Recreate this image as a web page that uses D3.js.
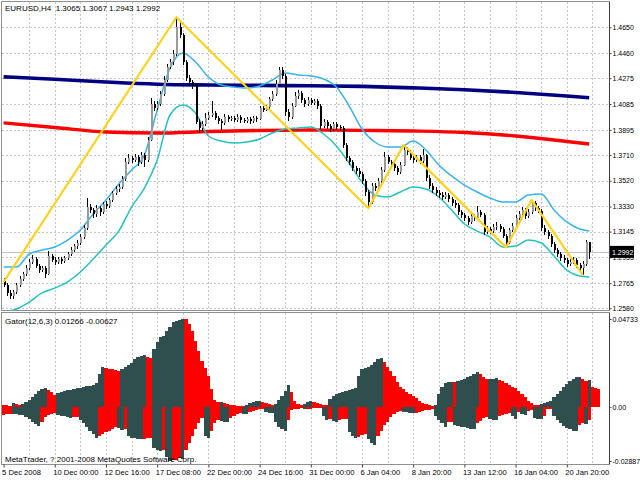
<!DOCTYPE html>
<html><head><meta charset="utf-8">
<script src="https://cdn.jsdelivr.net/npm/d3@7"></script>
<style>
html,body{margin:0;padding:0;background:#fff;}
svg{display:block;}
text{font-family:"Liberation Sans",Arial,sans-serif;font-size:8px;fill:#000;}
</style>
</head><body>
<svg id="c" width="640" height="480"></svg>
<script>
// ---------------- DATA ----------------
const symbol = "EURUSD,H4";
const gatorTitle = "Gator(12,6,3) 0.01266 -0.00627";
const copyright = "MetaTrader, ? 2001-2008 MetaQuotes Software Corp.";

const opens = [
1.2781,1.2752,1.2693,1.2670,1.2700,1.2752,1.2796,1.2833,1.2877,1.2921,
1.2943,1.2892,1.2862,1.2877,1.2833,1.2965,1.2936,1.2921,1.2943,1.2928,
1.2950,1.2980,1.3009,1.3039,1.3061,1.3105,1.3171,1.3326,1.3304,1.3275,
1.3319,1.3289,1.3348,1.3334,1.3378,1.3429,1.3459,1.3474,1.3532,1.3658,
1.3687,1.3672,1.3695,1.3658,1.3709,1.3672,1.3820,1.4085,1.4056,1.4085,
1.4159,1.4262,1.4358,1.4394,1.4453,1.4652,1.4593,1.4394,1.4277,1.4247,
1.4218,1.3952,1.3908,1.3938,1.3982,1.4004,1.4019,1.3982,1.3960,1.3945,
1.3989,1.3974,1.3982,1.3967,1.3989,1.3967,1.3960,1.3974,1.3960,1.3982,
1.3974,1.4056,1.4041,1.4063,1.4122,1.4159,1.4232,1.4335,1.4291,1.4026,
1.3989,1.4070,1.4144,1.4166,1.4114,1.4085,1.4114,1.4092,1.4107,1.4070,
1.3923,1.3952,1.3923,1.3901,1.3938,1.3916,1.3908,1.3783,1.3687,1.3658,
1.3613,1.3591,1.3569,1.3518,1.3437,1.3363,1.3481,1.3466,1.3518,1.3599,
1.3695,1.3658,1.3643,1.3613,1.3584,1.3636,1.3746,1.3731,1.3687,1.3672,
1.3695,1.3665,1.3709,1.3540,1.3481,1.3451,1.3429,1.3415,1.3400,1.3415,
1.3385,1.3356,1.3341,1.3289,1.3267,1.3245,1.3216,1.3260,1.3245,1.3289,
1.3267,1.3142,1.3164,1.3149,1.3179,1.3186,1.3164,1.3113,1.3061,1.3157,
1.3186,1.3245,1.3275,1.3304,1.3260,1.3289,1.3356,1.3319,1.3297,1.3171,
1.3142,1.3113,1.3054,1.3009,1.2980,1.2950,1.2936,1.2906,1.2921,1.2936,
1.2899,1.2877,1.2906,1.3065];

const closes = [
1.2752,1.2693,1.2670,1.2700,1.2752,1.2796,1.2833,1.2877,1.2921,1.2943,
1.2892,1.2862,1.2877,1.2833,1.2965,1.2936,1.2921,1.2943,1.2928,1.2950,
1.2980,1.3009,1.3039,1.3061,1.3105,1.3171,1.3326,1.3304,1.3275,1.3319,
1.3289,1.3348,1.3334,1.3378,1.3429,1.3459,1.3474,1.3532,1.3658,1.3687,
1.3672,1.3695,1.3658,1.3709,1.3672,1.3820,1.4085,1.4056,1.4085,1.4159,
1.4262,1.4358,1.4394,1.4453,1.4652,1.4593,1.4394,1.4277,1.4247,1.4218,
1.3952,1.3908,1.3938,1.3982,1.4004,1.4019,1.3982,1.3960,1.3945,1.3989,
1.3974,1.3982,1.3967,1.3989,1.3967,1.3960,1.3974,1.3960,1.3982,1.3974,
1.4056,1.4041,1.4063,1.4122,1.4159,1.4232,1.4335,1.4291,1.4026,1.3989,
1.4070,1.4144,1.4166,1.4114,1.4085,1.4114,1.4092,1.4107,1.4070,1.3923,
1.3952,1.3923,1.3901,1.3938,1.3916,1.3908,1.3783,1.3687,1.3658,1.3613,
1.3591,1.3569,1.3518,1.3437,1.3363,1.3481,1.3466,1.3518,1.3599,1.3695,
1.3658,1.3643,1.3613,1.3584,1.3636,1.3746,1.3731,1.3687,1.3672,1.3695,
1.3665,1.3709,1.3540,1.3481,1.3451,1.3429,1.3415,1.3400,1.3415,1.3385,
1.3356,1.3341,1.3289,1.3267,1.3245,1.3216,1.3260,1.3245,1.3289,1.3267,
1.3142,1.3164,1.3149,1.3179,1.3186,1.3164,1.3113,1.3061,1.3157,1.3186,
1.3245,1.3275,1.3304,1.3260,1.3289,1.3356,1.3319,1.3297,1.3171,1.3142,
1.3113,1.3054,1.3009,1.2980,1.2950,1.2936,1.2906,1.2921,1.2936,1.2899,
1.2877,1.2906,1.3065,1.2992];

const highs = [
1.2800,1.2770,1.2712,1.2718,1.2768,1.2815,1.2851,1.2899,1.2945,1.2975,
1.2958,1.2905,1.2893,1.2890,1.3005,1.2978,1.2955,1.2960,1.2958,1.2965,
1.2998,1.3030,1.3055,1.3082,1.3125,1.3190,1.3390,1.3345,1.3318,1.3338,
1.3335,1.3365,1.3370,1.3395,1.3445,1.3478,1.3495,1.3555,1.3690,1.3715,
1.3705,1.3720,1.3710,1.3735,1.3725,1.3840,1.4130,1.4110,1.4105,1.4180,
1.4290,1.4380,1.4420,1.4480,1.4724,1.4690,1.4610,1.4410,1.4300,1.4265,
1.4240,1.3975,1.3960,1.4020,1.4025,1.4110,1.4035,1.3995,1.3975,1.4010,
1.4005,1.4000,1.3995,1.4008,1.4002,1.3985,1.3992,1.3990,1.4000,1.3998,
1.4070,1.4068,1.4080,1.4140,1.4178,1.4260,1.4360,1.4358,1.4305,1.4045,
1.4090,1.4170,1.4185,1.4180,1.4130,1.4135,1.4128,1.4125,1.4120,1.4085,
1.3975,1.3968,1.3940,1.3955,1.3950,1.3930,1.3920,1.3800,1.3705,1.3675,
1.3630,1.3610,1.3585,1.3530,1.3450,1.3500,1.3505,1.3540,1.3620,1.3735,
1.3712,1.3675,1.3660,1.3630,1.3655,1.3783,1.3765,1.3745,1.3705,1.3712,
1.3710,1.3755,1.3720,1.3560,1.3500,1.3470,1.3450,1.3440,1.3435,1.3430,
1.3400,1.3375,1.3355,1.3305,1.3285,1.3260,1.3280,1.3275,1.3330,1.3305,
1.3280,1.3185,1.3180,1.3200,1.3215,1.3200,1.3180,1.3125,1.3175,1.3210,
1.3265,1.3295,1.3325,1.3318,1.3310,1.3378,1.3370,1.3335,1.3310,1.3190,
1.3160,1.3125,1.3070,1.3025,1.2995,1.2970,1.2950,1.2940,1.2955,1.2950,
1.2915,1.2925,1.3080,1.3067];

const lows = [
1.2735,1.2668,1.2645,1.2650,1.2688,1.2740,1.2780,1.2820,1.2862,1.2905,
1.2875,1.2840,1.2848,1.2805,1.2825,1.2920,1.2900,1.2908,1.2905,1.2915,
1.2938,1.2968,1.2995,1.3020,1.3048,1.3090,1.3160,1.3280,1.3245,1.3250,
1.3260,1.3275,1.3315,1.3320,1.3362,1.3415,1.3440,1.3460,1.3520,1.3640,
1.3650,1.3655,1.3630,1.3645,1.3620,1.3660,1.3810,1.4030,1.4040,1.4070,
1.4145,1.4245,1.4340,1.4370,1.4440,1.4570,1.4370,1.4255,1.4220,1.4195,
1.3935,1.3870,1.3885,1.3925,1.3965,1.3990,1.3965,1.3935,1.3890,1.3930,
1.3955,1.3958,1.3950,1.3952,1.3948,1.3942,1.3945,1.3940,1.3948,1.3955,
1.3965,1.4025,1.4030,1.4050,1.4105,1.4145,1.4220,1.4270,1.4000,1.3960,
1.3975,1.4060,1.4125,1.4095,1.4065,1.4070,1.4075,1.4078,1.4050,1.3900,
1.3905,1.3900,1.3880,1.3885,1.3890,1.3885,1.3760,1.3665,1.3635,1.3590,
1.3570,1.3545,1.3495,1.3410,1.3317,1.3350,1.3445,1.3450,1.3505,1.3585,
1.3640,1.3620,1.3595,1.3560,1.3570,1.3625,1.3710,1.3670,1.3650,1.3655,
1.3645,1.3650,1.3520,1.3460,1.3430,1.3410,1.3395,1.3380,1.3385,1.3365,
1.3335,1.3320,1.3270,1.3245,1.3225,1.3195,1.3200,1.3225,1.3230,1.3250,
1.3120,1.3125,1.3130,1.3135,1.3160,1.3145,1.3095,1.3029,1.3050,1.3140,
1.3170,1.3230,1.3260,1.3240,1.3245,1.3275,1.3300,1.3280,1.3150,1.3120,
1.3090,1.3035,1.2990,1.2960,1.2930,1.2915,1.2885,1.2890,1.2905,1.2880,
1.2850,1.2825,1.2895,1.2943];

// Moving averages, sampled bars
const maBars = [0,16,32,48,64,80,96,112,128,144,160,176,183];
const maBlue = [1.4285,1.4267,1.4247,1.4231,1.4225,1.4222,1.4219,1.4215,1.4204,1.4190,1.4170,1.4144,1.4131];
const maRed  = [1.3946,1.3912,1.3879,1.3871,1.3882,1.3890,1.3893,1.3891,1.3886,1.3875,1.3849,1.3809,1.3790];

// Bands, sampled every 4 bars + last bar
const bandBars = [0,4,8,12,16,20,24,28,32,36,40,44,48,52,56,60,64,68,72,76,80,84,88,92,96,100,104,108,112,116,120,124,128,132,136,140,144,148,152,156,160,164,168,172,176,180,183];
const upperBand = [1.2884,1.2884,1.2980,1.3009,1.3032,1.3083,1.3157,1.3275,1.3378,1.3496,1.3599,1.3709,1.4041,1.4350,1.4461,1.4394,1.4284,1.4225,1.4210,1.4203,1.4218,1.4262,1.4313,1.4299,1.4291,1.4269,1.4210,1.4070,1.3901,1.3805,1.3768,1.3768,1.3812,1.3746,1.3636,1.3555,1.3488,1.3437,1.3393,1.3363,1.3363,1.3415,1.3422,1.3304,1.3216,1.3164,1.3149];
const lowerBand = [1.2553,1.2575,1.2626,1.2693,1.2729,1.2774,1.2847,1.2943,1.3046,1.3149,1.3326,1.3466,1.3672,1.4004,1.4078,1.4019,1.3849,1.3812,1.3798,1.3805,1.3827,1.3871,1.3901,1.3908,1.3916,1.3864,1.3776,1.3650,1.3510,1.3415,1.3400,1.3437,1.3474,1.3459,1.3400,1.3304,1.3201,1.3149,1.3105,1.3032,1.3039,1.3083,1.3061,1.2965,1.2862,1.2818,1.2811];

// ZigZag
const zzBars = [0,54,114,125,157,165,181];
const zzPrices = [1.2774,1.4724,1.3317,1.3783,1.3029,1.3378,1.2825];

// Gator oscillator
const gatorUpper = [
0.00125,0.00107,0.00089,0.00232,0.00179,0.00143,0.00179,0.00268,0.00393,0.00536,
0.00714,0.00893,0.01000,0.01036,0.00929,0.00804,0.00679,0.00750,0.00822,0.00875,
0.00911,0.00947,0.00982,0.01018,0.01054,0.01089,0.01125,0.01161,0.01214,0.01286,
0.01786,0.02143,0.02107,0.02072,0.02036,0.02000,0.01965,0.02054,0.02179,0.02286,
0.02393,0.02590,0.02679,0.02768,0.02822,0.02679,0.02643,0.03126,0.03483,0.03750,
0.03840,0.04108,0.04286,0.04554,0.04608,0.04679,0.04733,0.04715,0.04465,0.04108,
0.03572,0.03036,0.02500,0.02107,0.01697,0.00982,0.00393,0.00268,0.00304,0.00214,
0.00161,0.00125,0.00107,0.00089,0.00071,0.00054,0.00143,0.00214,0.00268,0.00321,
0.00357,0.00286,0.00250,0.00196,0.00143,0.00179,0.00393,0.00625,0.00857,0.01179,
0.00804,0.00357,0.00179,0.00143,0.00179,0.00268,0.00357,0.00304,0.00250,0.00196,
0.00143,0.00107,0.00447,0.00625,0.00714,0.00786,0.00839,0.00893,0.00947,0.00982,
0.01036,0.01697,0.02054,0.02107,0.02179,0.02286,0.02411,0.02590,0.02625,0.02411,
0.02179,0.01965,0.01697,0.01340,0.01107,0.00982,0.00804,0.00714,0.00625,0.00500,
0.00357,0.00214,0.00161,0.00107,0.00071,0.00143,0.00714,0.01072,0.01286,0.01340,
0.01375,0.01357,0.01411,0.01447,0.01518,0.01607,0.01697,0.01786,0.01875,0.01786,
0.01643,0.01500,0.01518,0.01536,0.01554,0.01465,0.01393,0.01286,0.01179,0.01107,
0.01036,0.00893,0.00714,0.00536,0.00357,0.00214,0.00143,0.00107,0.00179,0.00232,
0.00268,0.00357,0.00536,0.00714,0.00893,0.01072,0.01250,0.01393,0.01518,0.01607,
0.01643,0.01536,0.01429,0.01447,0.01107,0.01036,0.01000];

const gatorLower = [
-0.00424,-0.00385,-0.00347,-0.00366,-0.00385,-0.00404,-0.00443,-0.00539,-0.00635,-0.00770,
-0.00905,-0.01001,-0.00770,-0.00539,-0.00424,-0.00347,-0.00308,-0.00424,-0.00462,-0.00481,
-0.00501,-0.00578,-0.00539,-0.00501,-0.00674,-0.00866,-0.01059,-0.01251,-0.01444,-0.01636,
-0.01540,-0.01444,-0.01348,-0.01251,-0.01155,-0.01078,-0.01117,-0.01213,-0.01155,-0.01540,
-0.01636,-0.01675,-0.01713,-0.01733,-0.01694,-0.01656,-0.01636,-0.02214,-0.02310,-0.02349,
-0.02291,-0.02695,-0.02887,-0.02849,-0.02811,-0.02734,-0.02791,-0.02310,-0.01925,-0.01540,
-0.01155,-0.00866,-0.00578,-0.01540,-0.01636,-0.01251,-0.00866,-0.00674,-0.00732,-0.00770,
-0.00809,-0.00578,-0.00481,-0.00385,-0.00327,-0.00347,-0.00366,-0.00231,-0.00193,-0.00154,
-0.00116,-0.00096,-0.00231,-0.00289,-0.00308,-0.00770,-0.01059,-0.01194,-0.01251,-0.00674,
-0.00154,-0.00096,-0.00077,-0.00058,-0.00116,-0.00096,-0.00077,-0.00058,-0.00050,-0.00039,
-0.00481,-0.00674,-0.00616,-0.00732,-0.00770,-0.00693,-0.00655,-0.00635,-0.01348,-0.01540,
-0.01636,-0.01579,-0.01502,-0.01444,-0.01733,-0.01925,-0.02021,-0.01540,-0.01251,-0.00963,
-0.00770,-0.00539,-0.00385,-0.00270,-0.00193,-0.00231,-0.00270,-0.00308,-0.00327,-0.00289,
-0.00250,-0.00212,-0.00173,-0.00135,-0.00116,-0.00481,-0.00674,-0.00866,-0.01059,-0.00809,
-0.00770,-0.00963,-0.01001,-0.01040,-0.01078,-0.01117,-0.01155,-0.01174,-0.00866,-0.00732,
-0.00578,-0.00501,-0.00635,-0.00674,-0.00693,-0.00481,-0.00424,-0.00347,-0.00289,-0.00481,
-0.00616,-0.00231,-0.00385,-0.00424,-0.00193,-0.00154,-0.00578,-0.00616,-0.00635,-0.00481,
-0.00096,-0.00077,-0.00481,-0.00674,-0.00866,-0.01001,-0.01117,-0.01194,-0.01251,-0.01271,
-0.00963,-0.00847,-0.00886,-0.00693];

// Axis labels
const priceTicks = [1.4650,1.4460,1.4275,1.4085,1.3895,1.3710,1.3520,1.3330,1.3145,1.2955,1.2765,1.2580];
const gatorTicks = [0.04733,0,-0.02887];
const gatorTickLabels = ["0.04733","0.00","-0.02887"];
const xLabelBars = [0,16,32,48,64,80,96,112,128,144,160,176];
const xLabels = ["5 Dec 2008","10 Dec 00:00","12 Dec 16:00","17 Dec 08:00","22 Dec 00:00","24 Dec 16:00","31 Dec 00:00","6 Jan 04:00","8 Jan 20:00","13 Jan 12:00","16 Jan 04:00","20 Jan 20:00"];

// ---------------- LAYOUT ----------------
const W = 640, H = 480;
const L = 2, AX = 609;
const mTop = 2, mBot = 310, gTop = 313, gBot = 464;
const DARK = "#2f4f4f", RED = "#ff0000";
const axisFont = "7px";

const svg = d3.select("#c");
const nBars = closes.length;
const x = d3.scaleLinear().domain([0, nBars - 1]).range([3.6, 3.6 + 3.2 * (nBars - 1)]);
const y = d3.scaleLinear().domain([1.2580, 1.4650]).range([308.3, 27.3]);
const yg = d3.scaleLinear().domain([-0.02887, 0.04733]).range([461, 319]);

svg.append("rect").attr("width", W).attr("height", H).attr("fill", "#fff");

const defs = svg.append("defs");
defs.append("clipPath").attr("id", "cm").append("rect")
  .attr("x", L).attr("y", mTop).attr("width", AX - L).attr("height", mBot - mTop);
defs.append("clipPath").attr("id", "cg").append("rect")
  .attr("x", L).attr("y", gTop).attr("width", AX - L).attr("height", gBot - gTop);

const main = svg.append("g").attr("clip-path", "url(#cm)");
const gat = svg.append("g").attr("clip-path", "url(#cg)");

// grid
const gridBars = d3.range(8, nBars + 4, 8);
const gridStyle = sel => sel.attr("stroke", "#c8c8c8").attr("stroke-width", 1)
  .attr("stroke-dasharray", "2,2").attr("shape-rendering", "crispEdges");
main.selectAll("line.vg").data(gridBars).join("line")
  .attr("x1", d => Math.round(x(d)) + 0.5).attr("x2", d => Math.round(x(d)) + 0.5)
  .attr("y1", mTop).attr("y2", mBot).call(gridStyle);
main.selectAll("line.hg").data(priceTicks).join("line")
  .attr("x1", L).attr("x2", AX)
  .attr("y1", d => Math.round(y(d)) + 0.5).attr("y2", d => Math.round(y(d)) + 0.5).call(gridStyle);
gat.selectAll("line.vg").data(gridBars).join("line")
  .attr("x1", d => Math.round(x(d)) + 0.5).attr("x2", d => Math.round(x(d)) + 0.5)
  .attr("y1", gTop).attr("y2", gBot).call(gridStyle);

// bid line
const lastClose = closes[nBars - 1];
main.append("line").attr("x1", L).attr("x2", AX)
  .attr("y1", Math.round(y(lastClose)) + 0.5).attr("y2", Math.round(y(lastClose)) + 0.5)
  .attr("stroke", "#c0c0c0").attr("stroke-width", 1);

// moving averages
const maLine = d3.line().x((d, i) => x(maBars[i])).y(d => y(d)).curve(d3.curveMonotoneX);
main.append("path").attr("d", maLine(maBlue)).attr("fill", "none")
  .attr("stroke", "#000080").attr("stroke-width", 3.6);
main.append("path").attr("d", maLine(maRed)).attr("fill", "none")
  .attr("stroke", "#ff0000").attr("stroke-width", 3.4);

// bands
const bandLine = d3.line().x((d, i) => x(bandBars[i])).y(d => y(d)).curve(d3.curveMonotoneX);
main.append("path").attr("d", bandLine(upperBand)).attr("fill", "none")
  .attr("stroke", "#38b2ec").attr("stroke-width", 1.5);
main.append("path").attr("d", bandLine(lowerBand)).attr("fill", "none")
  .attr("stroke", "#22c2c2").attr("stroke-width", 1.5);

// candles
const idx = d3.range(nBars);
const cg = main.append("g").attr("shape-rendering", "crispEdges");
cg.selectAll("line.w").data(idx).join("line")
  .attr("x1", i => Math.round(x(i)) + 0.5).attr("x2", i => Math.round(x(i)) + 0.5)
  .attr("y1", i => y(highs[i])).attr("y2", i => y(lows[i]))
  .attr("stroke", "#000").attr("stroke-width", 1);
cg.selectAll("rect.b").data(idx).join("rect")
  .attr("x", i => Math.round(x(i)) - 0.5).attr("width", 2)
  .attr("y", i => y(Math.max(opens[i], closes[i])))
  .attr("height", i => Math.max(1, Math.abs(y(opens[i]) - y(closes[i]))))
  .attr("fill", i => closes[i] >= opens[i] ? "#9a9a9a" : "#000");

// zigzag
const zz = d3.line().x((d, i) => x(zzBars[i])).y(d => y(d));
main.append("path").attr("d", zz(zzPrices)).attr("fill", "none")
  .attr("stroke", "#ffd21a").attr("stroke-width", 2.2).attr("stroke-linejoin", "round");

// gator
function gColors(vals) {
  let up = false;
  return vals.map((v, i) => {
    if (i > 0) {
      const a = Math.abs(v), p = Math.abs(vals[i - 1]);
      if (a > p) up = true; else if (a < p) up = false;
    }
    return up ? DARK : RED;
  });
}
const cu = gColors(gatorUpper), cl = gColors(gatorLower);
const gb = gat.append("g").attr("shape-rendering", "crispEdges");
gb.selectAll("rect.u").data(gatorUpper).join("rect")
  .attr("x", (d, i) => x(i) - 1.6).attr("width", 3.2)
  .attr("y", d => yg(d)).attr("height", d => yg(0) - yg(d))
  .attr("fill", (d, i) => cu[i]);
gb.selectAll("rect.l").data(gatorLower).join("rect")
  .attr("x", (d, i) => x(i) - 1.6).attr("width", 3.2)
  .attr("y", yg(0)).attr("height", d => yg(d) - yg(0))
  .attr("fill", (d, i) => cl[i]);

// borders
const bord = svg.append("g").attr("fill", "none").attr("shape-rendering", "crispEdges");
bord.append("rect").attr("x", 1.5).attr("y", 1.5).attr("width", AX - 1.5).attr("height", mBot - 1.5)
  .attr("stroke", "#909090");
bord.append("rect").attr("x", 1.5).attr("y", gTop - 0.5).attr("width", AX - 1.5).attr("height", gBot - gTop + 0.5)
  .attr("stroke", "#909090");

// price axis
const pAxis = d3.axisRight(y).tickValues(priceTicks).tickFormat(d3.format(".4f")).tickSize(2).tickPadding(1);
const pa = svg.append("g").attr("transform", `translate(${AX + 0.5},0)`).call(pAxis);
pa.select(".domain").attr("d", `M0,${mTop}V${mBot}`).attr("stroke", "#404040");
pa.selectAll(".tick line").attr("stroke", "#404040");
pa.selectAll("text").style("font-family", "Liberation Sans, Arial, sans-serif").style("font-size", axisFont);

// bid label
const bidY = y(lastClose);
svg.append("rect").attr("x", AX + 1).attr("y", bidY - 6.5).attr("width", 24).attr("height", 12).attr("fill", "#000");
svg.append("text").attr("x", AX + 3).attr("y", bidY + 2.5).style("fill", "#fff").style("font-size", axisFont)
  .text(lastClose.toFixed(4));

// gator axis
const gAxis = d3.axisRight(yg).tickValues(gatorTicks).tickFormat((d, i) => gatorTickLabels[i]).tickSize(2).tickPadding(1);
const ga = svg.append("g").attr("transform", `translate(${AX + 0.5},0)`).call(gAxis);
ga.select(".domain").attr("d", `M0,${gTop}V${gBot}`).attr("stroke", "#404040");
ga.selectAll(".tick line").attr("stroke", "#404040");
ga.selectAll("text").style("font-family", "Liberation Sans, Arial, sans-serif").style("font-size", axisFont);

// time axis
const tAxis = d3.axisBottom(x).tickValues(xLabelBars).tickFormat((d, i) => xLabels[i]).tickSize(3).tickPadding(2);
const ta = svg.append("g").attr("transform", `translate(0,${gBot + 0.5})`).call(tAxis);
ta.select(".domain").remove();
ta.selectAll(".tick line").attr("stroke", "#404040");
ta.selectAll("text").attr("text-anchor", "start").attr("x", -2)
  .style("font-family", "Liberation Sans, Arial, sans-serif").style("font-size", "7.6px");

// titles
const o = opens[nBars - 1], h = highs[nBars - 1], lo = lows[nBars - 1], c = closes[nBars - 1];
svg.append("text").attr("x", 5).attr("y", 11).style("white-space", "pre")
  .text(`${symbol}  ${o.toFixed(4)} ${h.toFixed(4)} ${lo.toFixed(4)} ${c.toFixed(4)}`);
svg.append("text").attr("x", 5).attr("y", 324).text(gatorTitle);
svg.append("text").attr("x", 5).attr("y", 462).text(copyright);
</script>
</body></html>
